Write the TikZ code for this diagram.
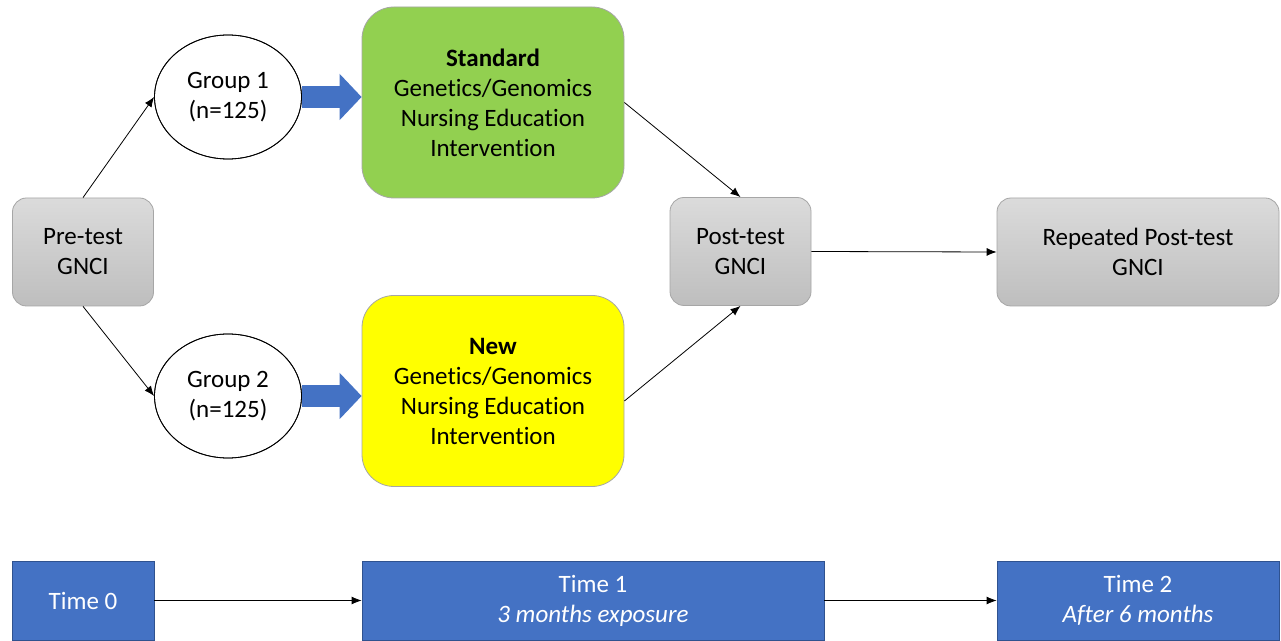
\documentclass[tikz,border=0pt]{standalone}
\usepackage{fontspec}
\setmainfont{Carlito}[Ligatures=NoCommon]
\usetikzlibrary{shapes.geometric,arrows.meta}

\tikzset{
  testbox/.style={draw=edgeGray, line width=0.8pt, rounded corners=14pt,
    top color=testTop, bottom color=testBottom, align=center, inner sep=0pt,
    minimum width=141pt, minimum height=108pt},
  groupnode/.style={ellipse, draw=black, line width=0.8pt, fill=white,
    align=center, inner sep=0pt, minimum width=147pt, minimum height=124pt},
  armbox/.style={draw=edgeGray, line width=0.8pt, rounded corners=32pt,
    align=center, inner sep=0pt, minimum width=262pt, minimum height=191pt},
  timebox/.style={draw=timeEdge, line width=0.8pt, fill=timeBlue, text=white,
    align=center, inner sep=0pt, minimum height=79pt},
  flow/.style={-{Latex[length=10pt,width=8pt]}, line width=0.8pt},
  blockarrow/.style={-{Triangle[length=22pt,width=45pt]}, line width=22pt, draw=timeBlue}
}

\begin{document}
\begin{tikzpicture}[x=1pt,y=1pt,font=\fontsize{25}{30}\selectfont]
\definecolor{edgeGray}{RGB}{166,166,166}
\definecolor{testTop}{RGB}{219,219,219}
\definecolor{testBottom}{RGB}{190,190,190}
\definecolor{armGreen}{RGB}{146,208,80}
\definecolor{armYellow}{RGB}{255,255,0}
\definecolor{timeBlue}{RGB}{68,114,196}
\definecolor{timeEdge}{RGB}{47,82,143}
\path[use as bounding box,fill=white] (0,0) rectangle (1281,640);

% test points
\node[testbox] (pre) at ( 83.0,388.0) {Pre-test\\GNCI};
\node[testbox] (post) at (740.5,388.5) {Post-test\\GNCI};
\node[testbox,minimum width=282pt] (rep) at (1138.0,388.0) {Repeated Post-test\\GNCI};

% groups
\node[groupnode] (g1) at (228.0,543.0) {Group 1\\(n=125)};
\node[groupnode] (g2) at (228.0,244.0) {Group 2\\(n=125)};

% interventions
\node[armbox,fill=armGreen] (std) at (493.0,537.5)
  {\textbf{Standard}\\Genetics/Genomics\\Nursing Education\\Intervention};
\node[armbox,fill=armYellow] (new) at (493.0,249.0)
  {\textbf{New}\\Genetics/Genomics\\Nursing Education\\Intervention};

\draw[blockarrow] (g1.east) -- (g1.east -| std.west);
\draw[blockarrow] (g2.east) -- (g2.east -| new.west);
\node[groupnode,fill=none] at (g1) {};
\node[groupnode,fill=none] at (g2) {};

\draw[flow] (pre.north) -- (g1.west);
\draw[flow] (pre.south) -- (g2.west);
\draw[flow] (std.east) -- (post.north);
\draw[flow] ([yshift=-10pt]new.east) -- (post.south);
\draw[flow] (post.east) -- (rep.west);

% time line
\node[timebox,minimum width=142pt] (t0) at (83.0,39.5) {Time 0};
\node[timebox,minimum width=462pt] (t1) at (593.0,39.5) {Time 1\\\textit{3 months exposure}};
\node[timebox,minimum width=282pt] (t2) at (1138.0,39.5) {Time 2\\\textit{After 6 months}};

\draw[flow] (t0.east) -- (t1.west);
\draw[flow] (t1.east) -- (t2.west);
\end{tikzpicture}
\end{document}
